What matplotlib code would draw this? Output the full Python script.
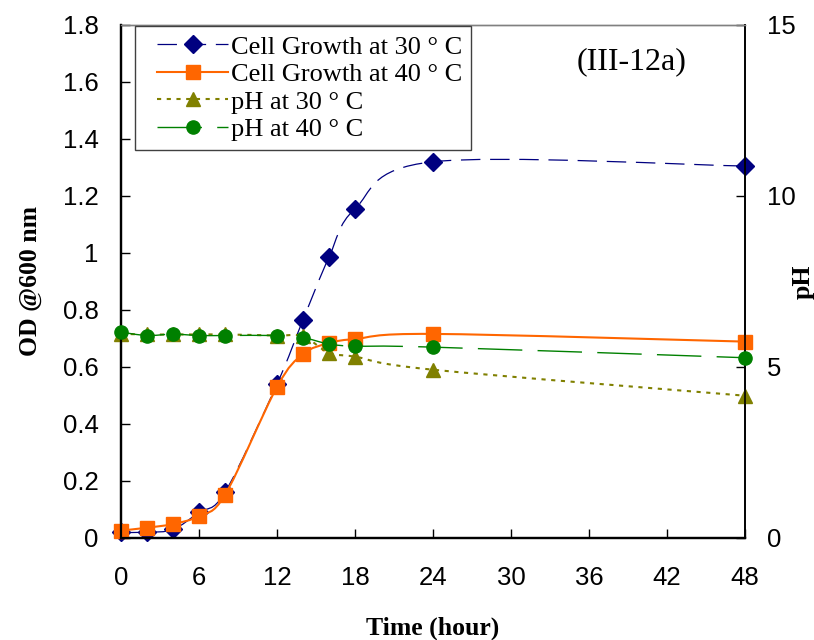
import matplotlib
matplotlib.use("Agg")
import matplotlib.pyplot as plt
from matplotlib.path import Path
from matplotlib.patches import PathPatch
from matplotlib.lines import Line2D
from matplotlib.legend_handler import HandlerLine2D

# sampling times (hours) and measurements for both temperatures
time_h = [0, 2, 4, 6, 8, 12, 14, 16, 18, 24, 48]
od_30 = [0.02, 0.02, 0.03, 0.09, 0.16, 0.54, 0.765, 0.985, 1.155, 1.32, 1.305]
od_40 = [0.026, 0.036, 0.049, 0.077, 0.151, 0.53, 0.645, 0.684, 0.698, 0.716, 0.689]
ph_30 = [5.97, 5.95, 5.95, 5.95, 5.95, 5.92, 5.9, 5.41, 5.3, 4.92, 4.16]
ph_40 = [6.02, 5.92, 5.96, 5.92, 5.92, 5.92, 5.86, 5.67, 5.61, 5.58, 5.27]

labels = ["Cell Growth at 30 \u00b0 C", "Cell Growth at 40 \u00b0 C",
          "pH at 30 \u00b0 C", "pH at 40 \u00b0 C"]

SERIF = "Liberation Serif"
SANS = "Liberation Sans"
plt.rcParams["lines.scale_dashes"] = False


def smooth_path(xs, ys):
    # spreadsheet-style smoothed line: cubic bezier segments through every point
    pts = list(zip(xs, ys))
    verts = [pts[0]]
    codes = [Path.MOVETO]
    n = len(pts)
    for i in range(n - 1):
        p0 = pts[max(i - 1, 0)]
        p1 = pts[i]
        p2 = pts[i + 1]
        p3 = pts[min(i + 2, n - 1)]
        c1 = (p1[0] + (p2[0] - p0[0]) / 6.0, p1[1] + (p2[1] - p0[1]) / 6.0)
        c2 = (p2[0] - (p3[0] - p1[0]) / 6.0, p2[1] - (p3[1] - p1[1]) / 6.0)
        verts += [c1, c2, p2]
        codes += [Path.CURVE4] * 3
    return Path(verts, codes)


def draw_series(axis, xs, ys, color, lw, ls, marker, ms, z):
    patch = PathPatch(smooth_path(xs, ys), fill=False, edgecolor=color,
                      linewidth=lw, linestyle=ls, zorder=z)
    axis.add_patch(patch)
    axis.plot(xs, ys, linestyle="none", marker=marker, markersize=ms,
              color=color, markeredgecolor=color, zorder=z + 0.5, clip_on=False)


fig = plt.figure(figsize=(8.14, 6.40), dpi=100)
ax = fig.add_axes([0.1486, 0.1594, 0.7666, 0.8016])
ax2 = ax.twinx()

blue_ls = (0, (14, 7))
orange_ls = "solid"
olive_ls = (0, (3, 4))
green_ls = (0, (32, 11))

draw_series(ax, time_h, od_30, "#000080", 0.9, blue_ls, "D", 9.5, 2)
draw_series(ax, time_h, od_40, "#FF6600", 1.5, orange_ls, "s", 9.5, 3)
draw_series(ax2, time_h, ph_30, "#808000", 1.5, olive_ls, "^", 10, 2)
draw_series(ax2, time_h, ph_40, "#008000", 1.0, green_ls, "o", 9.5, 3)

ax.set_xlim(0, 48)
ax.set_ylim(0, 1.8)
ax2.set_ylim(0, 15)
ax.set_xticks(range(0, 49, 6))
ax.set_yticks([i / 5 for i in range(10)])
ax.set_yticklabels(["0", "0.2", "0.4", "0.6", "0.8", "1", "1.2", "1.4", "1.6", "1.8"])
ax2.set_yticks([0, 5, 10, 15])

ax.tick_params(axis="x", direction="in", length=6.5, width=1, pad=20, labelsize=18.5)
ax.tick_params(axis="y", direction="in", length=6.5, width=1, pad=16, labelsize=18.5)
ax2.tick_params(axis="y", direction="in", length=6.5, width=1, pad=16, labelsize=18.5)
for lab in ax.get_xticklabels() + ax.get_yticklabels() + ax2.get_yticklabels():
    lab.set_fontfamily(SANS)

for a in (ax, ax2):
    a.spines["top"].set_color("#808080")
    a.spines["top"].set_linewidth(1.0)
    a.spines["left"].set_linewidth(1.6)
    a.spines["bottom"].set_linewidth(1.6)
    a.spines["right"].set_linewidth(1.2)

ax.set_xlabel("Time (hour)", fontfamily=SERIF, fontweight="bold", fontsize=18.5)
ax.set_ylabel("OD @600 nm", fontfamily=SERIF, fontweight="bold", fontsize=18.5)
ax2.set_ylabel("pH", fontfamily=SERIF, fontweight="bold", fontsize=18.5)
ax.xaxis.set_label_coords(0.5, -0.154)
ax.yaxis.set_label_coords(-0.127, 0.5)
ax2.yaxis.set_label_coords(1.075, 0.5)

ax.text(0.819, 0.928, "(III-12a)", transform=ax.transAxes, ha="center", va="center",
        fontfamily=SERIF, fontsize=23)

handles = [
    Line2D([], [], color="#000080", lw=0.9, linestyle=blue_ls, marker="D", markersize=9.5),
    Line2D([], [], color="#FF6600", lw=1.5, linestyle=orange_ls, marker="s", markersize=9.5),
    Line2D([], [], color="#808000", lw=1.5, linestyle=olive_ls, marker="^", markersize=10),
    Line2D([], [], color="#008000", lw=1.0, linestyle=green_ls, marker="o", markersize=9.5),
]
leg = ax2.legend(handles, labels, loc="upper left", bbox_to_anchor=(0.022, 0.998),
                 borderaxespad=0, frameon=True, fancybox=False, framealpha=1,
                 edgecolor="#404040", handlelength=3.2, handletextpad=0.1,
                 labelspacing=0.15, borderpad=0.35,
                 handler_map={Line2D: HandlerLine2D(xpad=0.5)},
                 prop={"family": SERIF, "size": 19})
leg.get_frame().set_linewidth(1.0)
leg.set_zorder(10)

fig.savefig("out.png", dpi=100)
